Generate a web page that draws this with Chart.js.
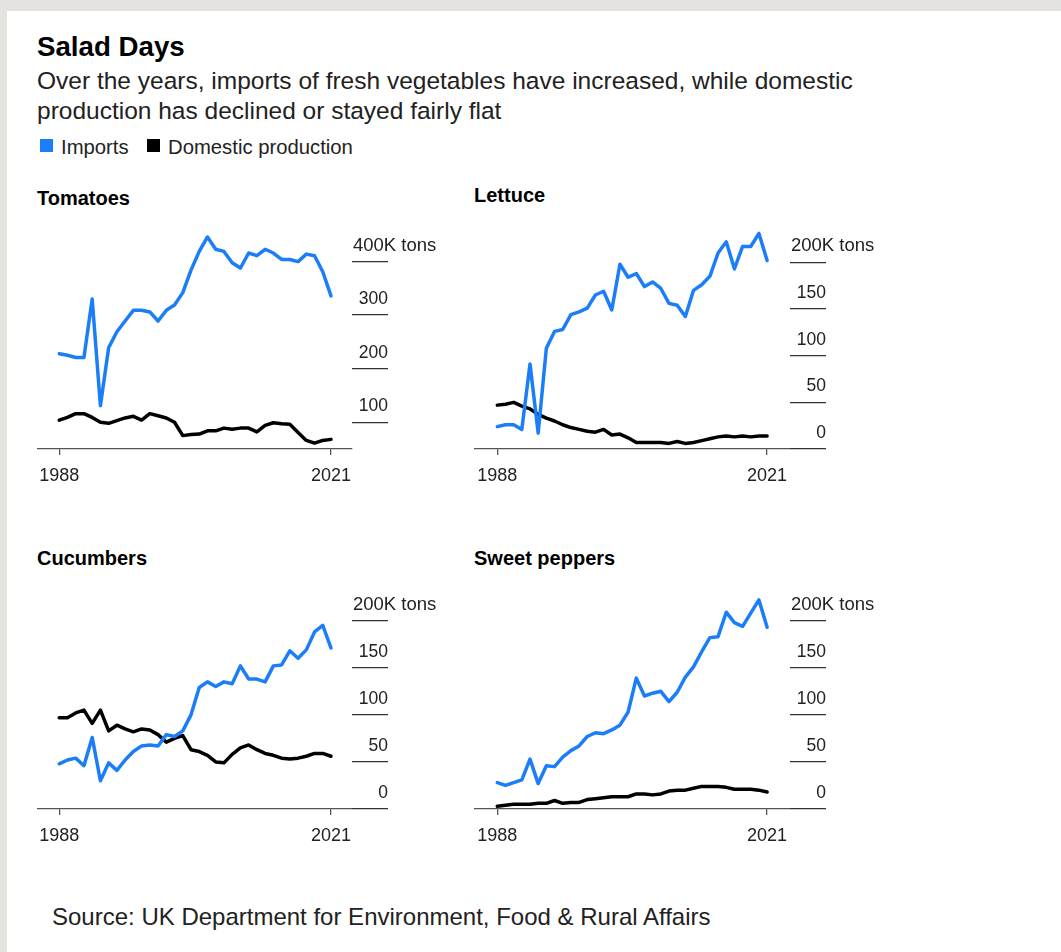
<!DOCTYPE html>
<html>
<head>
<meta charset="utf-8">
<script src="https://cdn.jsdelivr.net/npm/chart.js@4.4.0/dist/chart.umd.min.js"></script>
<style>
html, body { margin: 0; padding: 0; }
body {
    width: 1061px; height: 952px; position: relative; overflow: hidden;
    background: #e4e3df;
    font-family: "Liberation Sans", Arial, sans-serif; color: #151515;
}
.card { position: absolute; left: 7px; top: 11px; right: 0; bottom: 0; background: #fff; }
.txt { position: absolute; white-space: nowrap; line-height: 1; }
.panel { position: absolute; }
.sq { display: inline-block; width: 13px; height: 13px; position: absolute; top: 139px; }
</style>
</head>
<body>
<div class="card"></div>

<div class="txt" style="left:37px; top:33px; font-size:27.7px; font-weight:bold; color:#000;">Salad Days</div>
<div class="txt" style="left:37px; top:65.5px; font-size:24.5px; line-height:30px; color:#222;">Over the years, imports of fresh vegetables have increased, while domestic<br>production has declined or stayed fairly flat</div>

<span class="sq" style="left:40px; background:#1b7ef8;"></span>
<div class="txt" style="left:61px; top:137px; font-size:20.3px; color:#222;">Imports</div>
<span class="sq" style="left:147px; background:#000;"></span>
<div class="txt" style="left:168px; top:137px; font-size:20.3px; color:#222;">Domestic production</div>

<div class="panel" id="p1"><canvas id="c1"></canvas></div>
<div class="panel" id="p2"><canvas id="c2"></canvas></div>
<div class="panel" id="p3"><canvas id="c3"></canvas></div>
<div class="panel" id="p4"><canvas id="c4"></canvas></div>

<div class="txt" style="left:37px; top:188px; font-size:20px; font-weight:bold; color:#000;">Tomatoes</div>
<div class="txt" style="left:474px; top:185px; font-size:20px; font-weight:bold; color:#000;">Lettuce</div>
<div class="txt" style="left:37px; top:548px; font-size:20px; font-weight:bold; color:#000;">Cucumbers</div>
<div class="txt" style="left:474px; top:548px; font-size:20px; font-weight:bold; color:#000;">Sweet peppers</div>

<div class="txt" style="left:52px; top:905px; font-size:24px; color:#222;">Source: UK Department for Environment, Food &amp; Rural Affairs</div>

<script>
// --------- Datos (miles de toneladas) ---------
const YEARS = [1988, 1989, 1990, 1991, 1992, 1993, 1994, 1995, 1996, 1997, 1998, 1999,
    2000, 2001, 2002, 2003, 2004, 2005, 2006, 2007, 2008, 2009, 2010, 2011,
    2012, 2013, 2014, 2015, 2016, 2017, 2018, 2019, 2020, 2021];

const TOMATO_IMPORTS = [228, 225, 221, 221, 330, 131, 239, 269, 289, 309, 309, 306,
    289, 309, 319, 342, 384, 419, 446, 423, 419, 398, 388, 416,
    411, 423, 416, 404, 404, 400, 414, 411, 381, 336];
const TOMATO_DOMESTIC = [104, 109, 116, 116, 109, 100, 98, 103, 108, 111, 104, 116,
    112, 108, 100, 75, 77, 78, 84, 84, 89, 87, 89, 89,
    82, 94, 99, 97, 96, 81, 66, 61, 66, 68];

const LETTUCE_IMPORTS = [24, 26, 26, 21, 91, 17, 108, 126, 128, 144, 147, 151,
    165, 169, 149, 198, 184, 188, 174, 179, 172, 156, 154, 142,
    170, 176, 185, 210, 222, 193, 217, 217, 231, 202];
const LETTUCE_DOMESTIC = [47, 48, 50, 46, 43, 37, 33, 30, 26, 23, 21, 19,
    18, 21, 15, 16, 12, 7, 7, 7, 7, 6, 8, 6,
    7, 9, 11, 13, 14, 13, 14, 13, 14, 14];

const CUCUMBER_IMPORTS = [48, 52, 54, 46, 76, 30, 49, 41, 52, 61, 67, 68,
    67, 79, 77, 83, 100, 129, 135, 130, 135, 133, 152, 138,
    138, 135, 152, 153, 168, 160, 169, 188, 195, 171];
const CUCUMBER_DOMESTIC = [97, 97, 102, 105, 91, 105, 83, 89, 85, 82, 85, 84,
    79, 71, 75, 78, 63, 61, 57, 50, 49, 58, 65, 68,
    63, 59, 57, 54, 53, 54, 56, 59, 59, 56];

const PEPPER_IMPORTS = [28, 25, 28, 31, 53, 27, 46, 45, 55, 62, 67, 77,
    81, 80, 84, 89, 103, 139, 120, 123, 125, 114, 124, 140,
    151, 167, 182, 183, 209, 198, 194, 208, 222, 193];
const PEPPER_DOMESTIC = [3, 4, 5, 5, 5, 6, 6, 9, 6, 7, 7, 10,
    11, 12, 13, 13, 13, 16, 16, 15, 16, 19, 20, 20,
    22, 24, 24, 24, 23, 21, 21, 21, 20, 18];

// Etiquetas de ejes
const X_TICKS = [1988, 2021];
const TOMATO_TICKS = [100, 200, 300, 400];
const SMALL_TICKS = [0, 50, 100, 150, 200];
const UNIT = "K tons";

const BLUE = "#1b7ef8";
const BLACK = "#000000";
const AXIS = "#555555";
const FONT = '"Liberation Sans", Arial, sans-serif';

// Etiquetas del eje Y encima de cada marca (estilo Bloomberg)
const yLabels = {
    id: "yLabels",
    afterDraw(chart) {
        const s = chart.scales.y;
        const ctx = chart.ctx;
        const top = s.ticks[s.ticks.length - 1].value;
        ctx.save();
        ctx.fillStyle = "#222";
        ctx.textBaseline = "alphabetic";
        s.ticks.forEach((t) => {
            const y = s.getPixelForValue(t.value) - 11;
            if (t.value === top) {
                ctx.font = "18.5px " + FONT;
                ctx.textAlign = "left";
                ctx.fillText(t.value + UNIT, s.left + 1, y);
            } else {
                ctx.font = "17.5px " + FONT;
                ctx.textAlign = "right";
                ctx.fillText(String(t.value), s.left + 36, y);
            }
        });
        ctx.restore();
    },
};

function buildPanel(id, box, imports, domestic, yMin, yMax, yTicks) {
    const padTop = 10, xAxisH = 40, yAxisW = 36, padRight = 64;
    const wrap = document.getElementById("p" + id);
    const canvas = document.getElementById("c" + id);
    const w = box.right - box.left + yAxisW + padRight;
    const h = padTop + (box.bottom - box.top) + xAxisH;
    wrap.style.left = box.left + "px";
    wrap.style.top = (box.top - padTop) + "px";
    canvas.width = w;
    canvas.height = h;

    const toPts = (arr) => YEARS.map((yr, i) => ({ x: yr, y: arr[i] }));

    new Chart(canvas.getContext("2d"), {
        type: "line",
        data: {
            datasets: [
                {
                    label: "Imports",
                    data: toPts(imports),
                    borderColor: BLUE,
                    borderWidth: 3.5,
                    order: 0,
                },
                {
                    label: "Domestic production",
                    data: toPts(domestic),
                    borderColor: BLACK,
                    borderWidth: 3.5,
                    order: 1,
                },
            ],
        },
        options: {
            responsive: false,
            animation: false,
            devicePixelRatio: 1,
            layout: { padding: { top: padTop, right: padRight, bottom: 0, left: 0 } },
            elements: {
                point: { radius: 0 },
                line: { tension: 0, borderJoinStyle: "round", borderCapStyle: "round" },
            },
            plugins: { legend: { display: false }, tooltip: { enabled: false } },
            scales: {
                x: {
                    type: "linear",
                    min: box.xMin,
                    max: box.xMax,
                    afterBuildTicks: (s) => { s.ticks = X_TICKS.map((v) => ({ value: v })); },
                    afterFit: (s) => {
                        s.height = xAxisH;
                        s.paddingLeft = 0;
                        s.paddingRight = 0;
                    },
                    grid: { drawOnChartArea: false, drawTicks: true, tickLength: 6, color: AXIS, lineWidth: 1.3 },
                    border: { display: true, color: AXIS, width: 1.3 },
                    ticks: {
                        autoSkip: false,
                        maxRotation: 0,
                        padding: 10,
                        color: "#222",
                        font: { family: FONT, size: 18 },
                        callback: (v) => String(v),
                    },
                },
                y: {
                    position: "right",
                    min: yMin,
                    max: yMax,
                    afterBuildTicks: (s) => { s.ticks = yTicks.map((v) => ({ value: v })); },
                    afterFit: (s) => {
                        s.width = yAxisW;
                        s.paddingTop = 0;
                        s.paddingBottom = 0;
                    },
                    grid: { drawOnChartArea: false, drawTicks: true, tickLength: yAxisW, color: "#333", lineWidth: 1.3 },
                    border: { display: false },
                    ticks: { display: false },
                },
            },
        },
        plugins: [yLabels],
    });
}

const LEFT = { left: 37, right: 352, xMin: 1985.3, xMax: 2023.55 };
const RIGHT = { left: 474, right: 790, xMin: 1985.15, xMax: 2023.8 };

buildPanel(1, { ...LEFT, top: 230, bottom: 449 }, TOMATO_IMPORTS, TOMATO_DOMESTIC, 50, 459, TOMATO_TICKS);
buildPanel(2, { ...RIGHT, top: 225, bottom: 449 }, LETTUCE_IMPORTS, LETTUCE_DOMESTIC, 0, 240, SMALL_TICKS);
buildPanel(3, { ...LEFT, top: 583, bottom: 809 }, CUCUMBER_IMPORTS, CUCUMBER_DOMESTIC, 0, 240, SMALL_TICKS);
buildPanel(4, { ...RIGHT, top: 583, bottom: 809 }, PEPPER_IMPORTS, PEPPER_DOMESTIC, 0, 240, SMALL_TICKS);
</script>
</body>
</html>
